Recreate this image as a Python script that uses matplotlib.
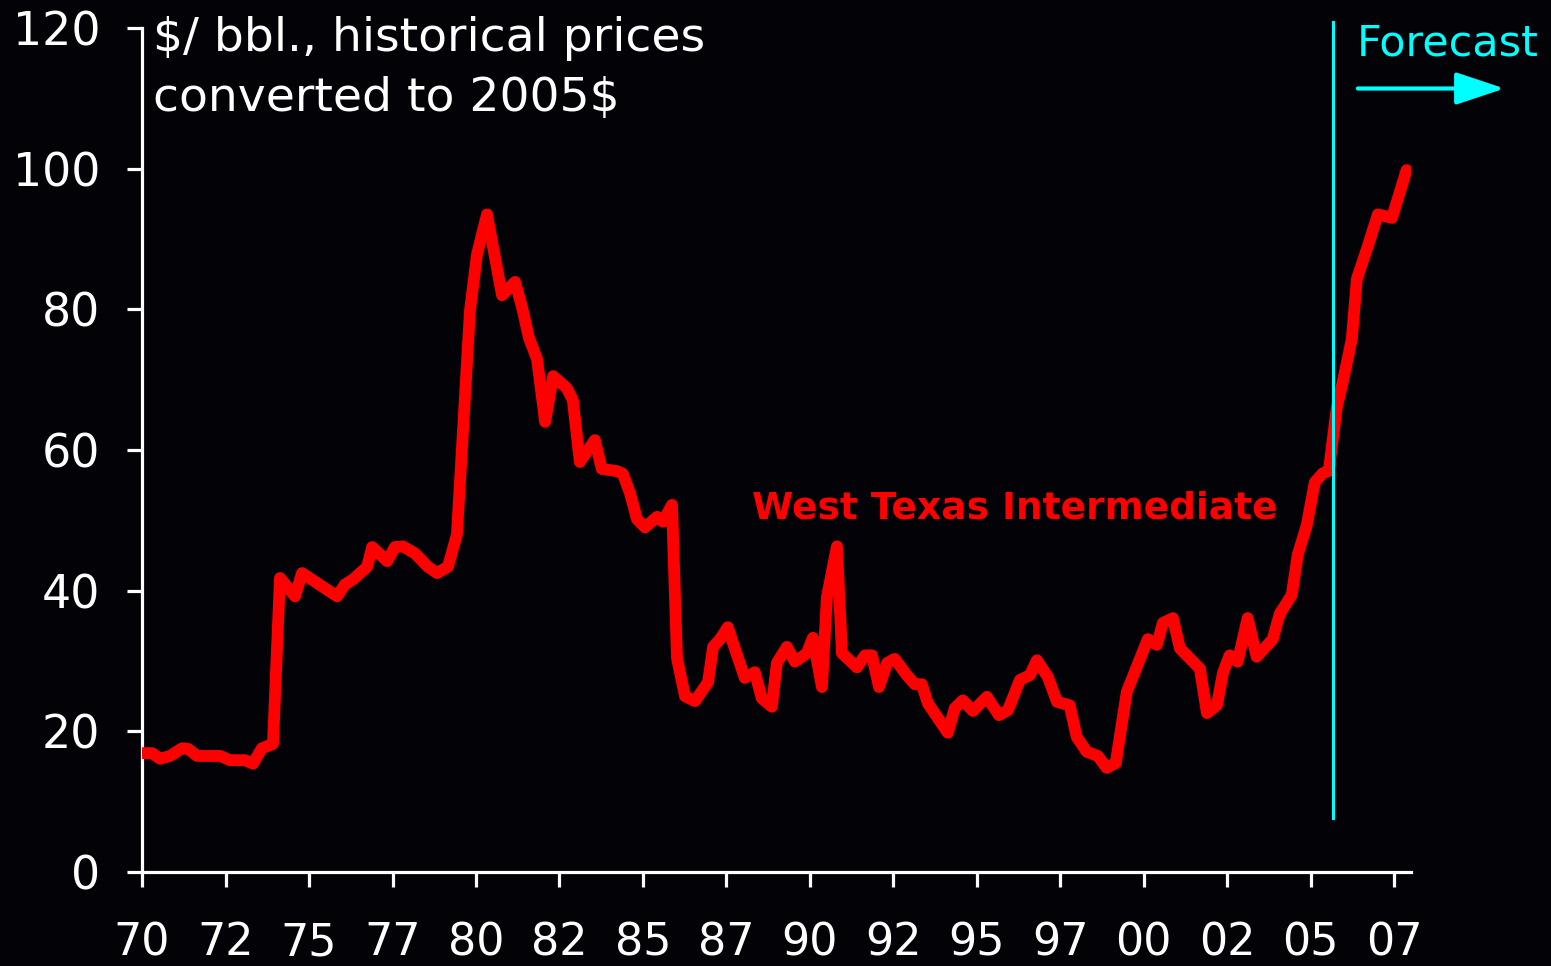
import matplotlib
matplotlib.use("Agg")
import matplotlib.pyplot as plt

# WTI price, $/bbl in 2005 dollars
years = [1970.00, 1970.30, 1970.54, 1970.84, 1971.20, 1971.38, 1971.65, 1972.34,
         1972.63, 1973.08, 1973.32, 1973.59, 1973.92, 1974.13, 1974.58, 1974.79,
         1975.84, 1976.08, 1976.32, 1976.74, 1976.89, 1977.34, 1977.57, 1977.81,
         1978.17, 1978.56, 1978.83, 1979.16, 1979.43, 1979.82, 1980.03, 1980.33,
         1980.78, 1981.17, 1981.38, 1981.59, 1981.83, 1982.07, 1982.31, 1982.72,
         1982.90, 1983.11, 1983.56, 1983.77, 1984.22, 1984.40, 1984.61, 1984.82,
         1985.06, 1985.42, 1985.60, 1985.87, 1986.02, 1986.26, 1986.56, 1986.95,
         1987.10, 1987.31, 1987.54, 1987.75, 1988.05, 1988.35, 1988.56, 1988.86,
         1989.01, 1989.31, 1989.55, 1989.91, 1990.09, 1990.36, 1990.51, 1990.81,
         1990.96, 1991.41, 1991.65, 1991.86, 1992.07, 1992.31, 1992.54, 1992.90,
         1993.14, 1993.35, 1993.53, 1994.13, 1994.34, 1994.58, 1994.88, 1995.30,
         1995.66, 1995.93, 1996.29, 1996.59, 1996.80, 1997.13, 1997.40, 1997.78,
         1997.99, 1998.29, 1998.62, 1998.89, 1999.16, 1999.49, 2000.12, 2000.39,
         2000.57, 2000.87, 2001.08, 2001.68, 2001.89, 2002.19, 2002.37, 2002.57,
         2002.81, 2003.11, 2003.38, 2003.86, 2004.07, 2004.43, 2004.61, 2004.88,
         2005.12, 2005.36, 2005.54, 2005.78, 2005.96, 2006.23, 2006.38, 2006.71,
         2007.01, 2007.43, 2007.87]
price = [16.9, 16.9, 16.1, 16.5, 17.6, 17.5, 16.5, 16.5,
         15.9, 15.9, 15.4, 17.6, 18.2, 41.8, 39.2, 42.5,
         39.2, 40.9, 41.6, 43.4, 46.2, 44.2, 46.2, 46.3,
         45.3, 43.4, 42.5, 43.4, 48.0, 79.8, 87.8, 93.5,
         82.0, 83.9, 80.3, 75.9, 72.9, 64.0, 70.5, 68.8,
         67.1, 58.3, 61.4, 57.3, 57.0, 56.6, 53.9, 50.2,
         49.0, 50.5, 49.8, 52.2, 30.4, 25.0, 24.3, 27.0,
         32.0, 33.1, 34.8, 31.8, 27.6, 28.4, 24.7, 23.5,
         29.7, 32.0, 29.9, 31.1, 33.3, 26.3, 39.1, 46.3,
         31.1, 29.1, 30.8, 30.8, 26.3, 29.7, 30.3, 28.0,
         26.7, 26.7, 24.0, 19.8, 23.3, 24.4, 22.9, 24.9,
         22.3, 23.0, 27.3, 28.0, 30.1, 27.7, 24.2, 23.7,
         19.2, 17.1, 16.5, 14.8, 15.5, 25.6, 33.1, 32.3,
         35.4, 36.1, 31.8, 28.9, 22.6, 23.7, 28.3, 30.8,
         29.9, 36.1, 30.6, 33.1, 36.7, 39.4, 45.1, 49.3,
         55.4, 56.7, 57.0, 66.1, 69.7, 75.8, 84.3, 89.0,
         93.5, 93.0, 99.8]

tick_pos = [1970 + 2.5 * i for i in range(16)]
tick_labels = ["70", "72", "75", "77", "80", "82", "85", "87",
               "90", "92", "95", "97", "00", "02", "05", "07"]
forecast_start = 2005.66

BG = "#030206"
RED = "#ff0000"
CYAN = "#00ffff"

fig = plt.figure(figsize=(15.51, 9.66), dpi=100, facecolor=BG)
ax = fig.add_axes([0.0916, 0.0973, 0.8181, 0.8737])
ax.set_facecolor(BG)

ax.plot(years, price, color=RED, lw=8.5, solid_joinstyle="round",
        solid_capstyle="round", zorder=3)

# forecast divider and arrow
ax.plot([forecast_start, forecast_start], [7.7, 120.8], color=CYAN, lw=2.2,
        clip_on=False, zorder=4)
ax.text(2006.38, 116.1, "Forecast", color=CYAN, fontsize=31, va="baseline",
        ha="left", clip_on=False)
ax.annotate("", xy=(2010.8, 111.4), xytext=(2006.41, 111.4),
            annotation_clip=False,
            arrowprops=dict(arrowstyle="-|>,head_length=1.5,head_width=0.5",
                            mutation_scale=20, color=CYAN, lw=3,
                            shrinkA=0, shrinkB=0))

ax.text(1970.33, 116.8, "$/ bbl., historical prices", color="white",
        fontsize=34, va="baseline", ha="left")
ax.text(1970.33, 108.2, "converted to 2005$", color="white",
        fontsize=34, va="baseline", ha="left")
ax.text(1988.26, 50.3, "West Texas Intermediate", color=RED, fontsize=27,
        fontweight="bold", va="baseline", ha="left")

ax.set_xlim(1970, 2008)
ax.set_ylim(0, 120)
ax.set_xticks(tick_pos)
ax.set_xticklabels(tick_labels)
ax.set_yticks(range(0, 121, 20))

for s in ["top", "right"]:
    ax.spines[s].set_visible(False)
for s in ["left", "bottom"]:
    ax.spines[s].set_color("white")
    ax.spines[s].set_linewidth(2.3)

ax.tick_params(axis="both", colors="white", direction="out", length=11,
               width=2.3, labelsize=33)
ax.tick_params(axis="x", pad=24.5, labelsize=32)
ax.tick_params(axis="y", pad=19)

fig.savefig("out.png", dpi=100, facecolor=BG)
